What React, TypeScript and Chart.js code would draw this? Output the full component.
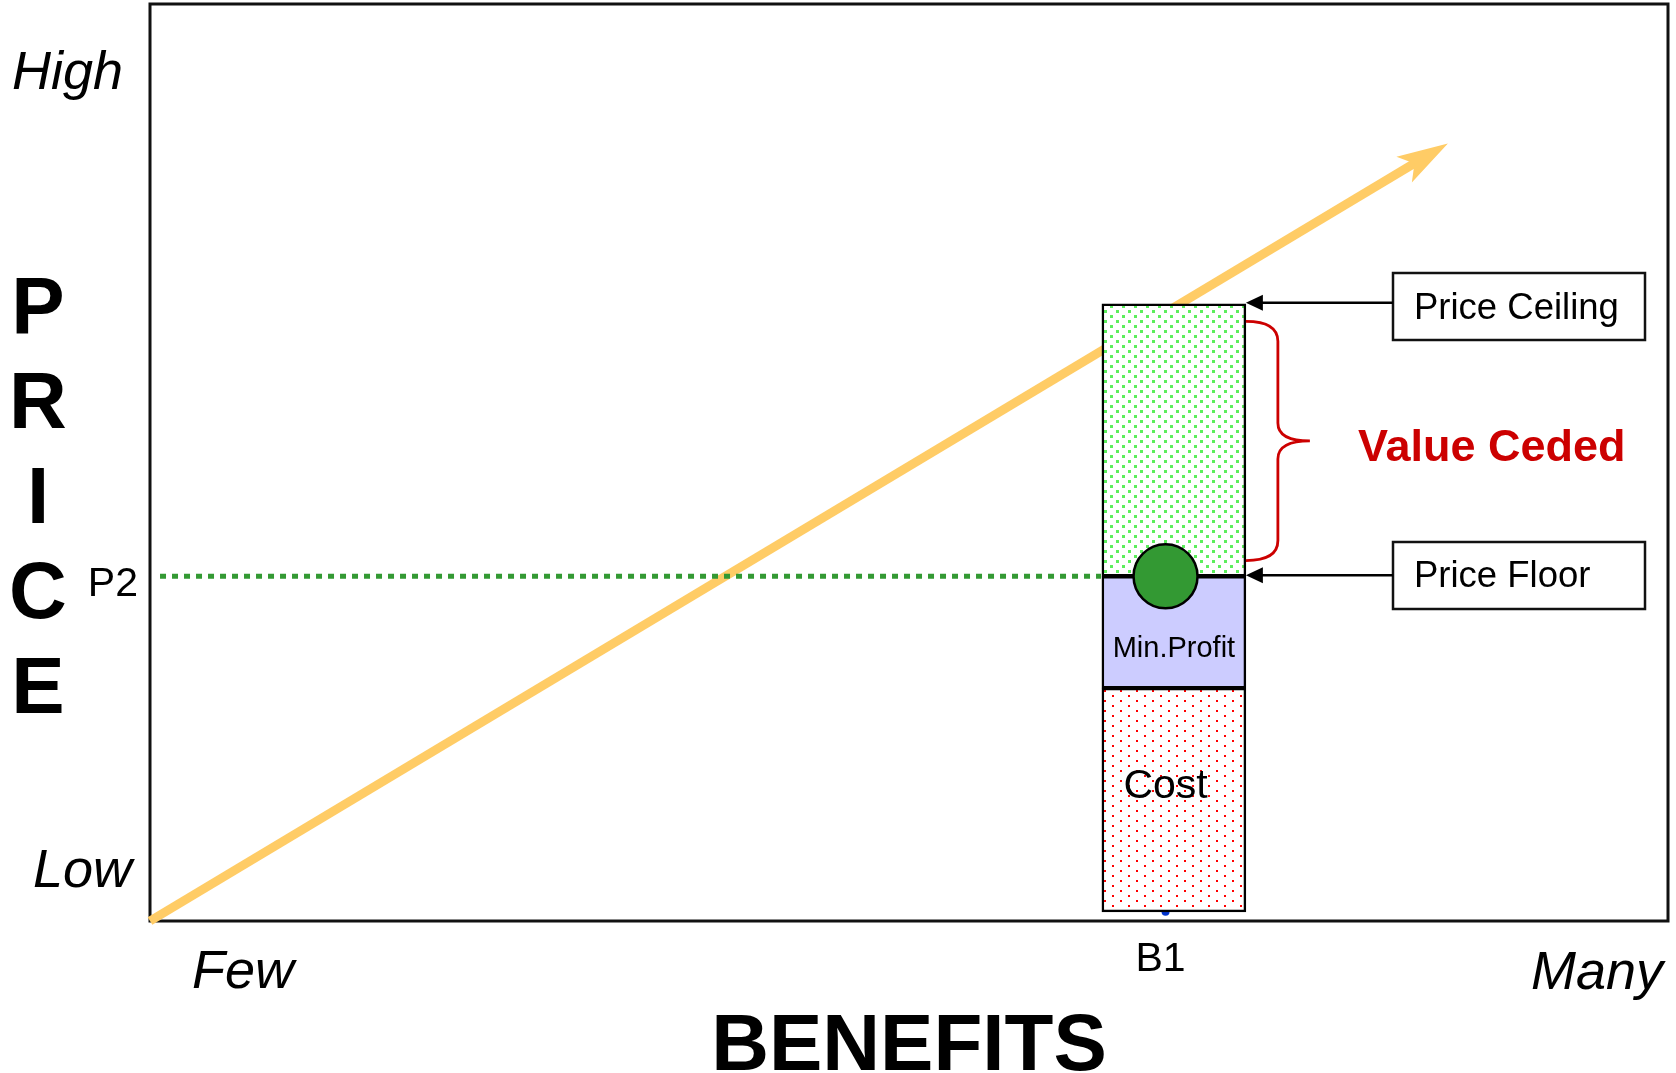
import React, { useEffect, useRef } from "react";
import { Chart, registerables } from "chart.js";

Chart.register(...registerables);

// ---- data (value space 0..100 on both axes) ----
const xAxisRange = [0, 100];
const yAxisRange = [0, 100];
const xEndLabels = ["Few", "Many"];
const yEndLabels = ["High", "Low"];
const axisTitleX = "BENEFITS";
const axisTitleY = "PRICE";
const benefitLabel = "B1";
const priceLabel = "P2";
const B1 = 66.9;
const P2 = 37.6;
const barCenter = 67.45;
const costRange = [1.0, 25.4];
const profitRange = [25.4, 37.6];
const cededRange = [37.6, 67.3];
const trendStart = [0, 0];
const trendTip = [85.5, 84.8];
const dottedStartX = 0.66;
const bracketRange = [39.3, 65.4];
const segmentLabels = ["Cost", "Min.Profit"];
const calloutLabels = ["Price Ceiling", "Price Floor", "Value Ceded"];

const FONT = '"Liberation Sans", Arial, Helvetica, sans-serif';

function makePattern(w: number, h: number, dots: number[][], size: number, color: string) {
  const c = document.createElement("canvas");
  c.width = w;
  c.height = h;
  const g = c.getContext("2d")!;
  g.fillStyle = "#ffffff";
  g.fillRect(0, 0, w, h);
  g.fillStyle = color;
  dots.forEach(([x, y]) => g.fillRect(x, y, size, size));
  return g.createPattern(c, "repeat")!;
}

const decorPlugin = {
  id: "decor",
  beforeDatasetsDraw(chart: any) {
    const { ctx, chartArea: a, scales } = chart;
    const xs = scales.x, ys = scales.y;
    ctx.save();
    // plot frame
    ctx.strokeStyle = "#111";
    ctx.lineWidth = 3;
    ctx.strokeRect(a.left, a.top, a.right - a.left, a.bottom - a.top);
    // trend arrow
    const sx = xs.getPixelForValue(trendStart[0]);
    const sy = ys.getPixelForValue(trendStart[1]);
    const tx = xs.getPixelForValue(trendTip[0]);
    const ty = ys.getPixelForValue(trendTip[1]);
    const len = Math.hypot(tx - sx, ty - sy);
    const ux = (tx - sx) / len, uy = (ty - sy) / len;
    const nx = -uy, ny = ux;
    ctx.strokeStyle = "#FFCC66";
    ctx.lineWidth = 9;
    ctx.lineCap = "butt";
    ctx.beginPath();
    ctx.moveTo(sx, sy);
    ctx.lineTo(tx - 25 * ux, ty - 25 * uy);
    ctx.stroke();
    ctx.fillStyle = "#FFCC66";
    ctx.beginPath();
    ctx.moveTo(tx, ty);
    ctx.lineTo(tx - 51 * ux + 15 * nx, ty - 51 * uy + 15 * ny);
    ctx.lineTo(tx - 39 * ux, ty - 39 * uy);
    ctx.lineTo(tx - 51 * ux - 15 * nx, ty - 51 * uy - 15 * ny);
    ctx.closePath();
    ctx.fill();
    ctx.restore();
  },
  afterDatasetsDraw(chart: any) {
    const { ctx, scales } = chart;
    const xs = scales.x, ys = scales.y;
    const bar = chart.getDatasetMeta(2).data[0] as any;
    const barRight = bar.x + bar.width / 2;
    const barLeft = bar.x - bar.width / 2;
    ctx.save();

    // callout boxes and arrows
    const boxL = 1393, boxR = 1645;
    const boxes = [
      { top: 273, bottom: 340, y: ys.getPixelForValue(cededRange[1]) - 1, text: calloutLabels[0], base: 319 },
      { top: 542, bottom: 609, y: ys.getPixelForValue(P2) - 1, text: calloutLabels[1], base: 587 },
    ];
    boxes.forEach((b) => {
      ctx.strokeStyle = "#111";
      ctx.lineWidth = 2.5;
      ctx.strokeRect(boxL, b.top, boxR - boxL, b.bottom - b.top);
      ctx.fillStyle = "#000";
      ctx.font = `36.5px ${FONT}`;
      ctx.textAlign = "left";
      ctx.textBaseline = "alphabetic";
      ctx.fillText(b.text, 1414, b.base);
      // arrow
      ctx.strokeStyle = "#000";
      ctx.lineWidth = 2.5;
      ctx.beginPath();
      ctx.moveTo(boxL, b.y);
      ctx.lineTo(barRight + 14, b.y);
      ctx.stroke();
      ctx.fillStyle = "#000";
      ctx.beginPath();
      ctx.moveTo(barRight, b.y);
      ctx.lineTo(barRight + 17, b.y - 8);
      ctx.lineTo(barRight + 17, b.y + 8);
      ctx.closePath();
      ctx.fill();
    });

    // brace
    const yT = ys.getPixelForValue(bracketRange[1]);
    const yB = ys.getPixelForValue(bracketRange[0]);
    const yM = (yT + yB) / 2;
    const x0 = barRight;
    const xv = x0 + 32;
    const xt = x0 + 64;
    ctx.strokeStyle = "#CC0000";
    ctx.lineWidth = 2.8;
    ctx.beginPath();
    ctx.moveTo(x0, yT);
    ctx.quadraticCurveTo(xv, yT, xv, yT + 20);
    ctx.lineTo(xv, yM - 18);
    ctx.quadraticCurveTo(xv, yM, xt, yM);
    ctx.quadraticCurveTo(xv, yM, xv, yM + 18);
    ctx.lineTo(xv, yB - 20);
    ctx.quadraticCurveTo(xv, yB, x0, yB);
    ctx.stroke();

    ctx.fillStyle = "#CC0000";
    ctx.font = `bold 45px ${FONT}`;
    ctx.textAlign = "left";
    ctx.fillText(calloutLabels[2], 1358, 461);

    // segment labels
    ctx.fillStyle = "#000";
    ctx.textAlign = "center";
    ctx.font = `29px ${FONT}`;
    ctx.fillText(segmentLabels[1], (barLeft + barRight) / 2, 657);
    ctx.font = `41px ${FONT}`;
    ctx.fillText(segmentLabels[0], xs.getPixelForValue(B1), 798);

    // axis end labels
    ctx.font = `italic 54px ${FONT}`;
    ctx.textAlign = "left";
    ctx.fillText(yEndLabels[0], 12, 89);
    ctx.fillText(yEndLabels[1], 33, 887);
    ctx.fillText(xEndLabels[0], 192, 988);
    ctx.textAlign = "right";
    ctx.fillText(xEndLabels[1], 1663, 989);

    // P2 / B1
    ctx.font = `41px ${FONT}`;
    ctx.textAlign = "right";
    ctx.fillText(priceLabel, 138, ys.getPixelForValue(P2) + 20);
    ctx.textAlign = "center";
    ctx.fillText(benefitLabel, xs.getPixelForValue(B1) - 5, 971);

    // axis titles
    ctx.font = `bold 80px ${FONT}`;
    ctx.textAlign = "center";
    ctx.fillText(axisTitleX, 909, 1070);
    ctx.font = `bold 80px ${FONT}`;
    axisTitleY.split("").forEach((ch, i) => {
      ctx.fillText(ch, 38, 333 + i * 95);
    });
    ctx.restore();
  },
};

export default function App() {
  const ref = useRef<HTMLCanvasElement | null>(null);
  useEffect(() => {
    const canvas = ref.current!;
    const green = makePattern(12, 10, [[0, 0], [6, 5]], 3, "#5CEE5C");
    const red = makePattern(16, 10, [[0, 0], [8, 5]], 2, "#FF0000");
    const chart = new Chart(canvas, {
      type: "scatter",
      data: {
        datasets: [
          {
            type: "scatter",
            data: [{ x: B1, y: P2 }],
            pointRadius: 32,
            pointBackgroundColor: "#339933",
            pointBorderColor: "#000",
            pointBorderWidth: 2.5,
            clip: false,
            order: 0,
          } as any,
          {
            type: "line",
            data: [
              { x: dottedStartX, y: P2 },
              { x: B1 - 4.25, y: P2 },
            ],
            borderColor: "#339933",
            borderWidth: 5,
            borderDash: [6, 6],
            borderCapStyle: "butt",
            pointRadius: 0,
            order: 3,
          } as any,
          {
            type: "bar",
            data: [{ x: barCenter, y: cededRange }],
            backgroundColor: green,
            borderColor: "#000",
            borderWidth: 2.5,
            borderSkipped: false,
            barThickness: 144,
            grouped: false,
            order: 5,
          } as any,
          {
            type: "bar",
            data: [{ x: barCenter, y: profitRange }],
            backgroundColor: "#CCCCFF",
            borderColor: "#000",
            borderWidth: 2.5,
            borderSkipped: false,
            barThickness: 144,
            grouped: false,
            order: 6,
          } as any,
          {
            type: "bar",
            data: [{ x: barCenter, y: costRange }],
            backgroundColor: red,
            borderColor: "#000",
            borderWidth: 2.5,
            borderSkipped: false,
            barThickness: 144,
            grouped: false,
            order: 7,
          } as any,
          {
            type: "scatter",
            data: [{ x: B1, y: costRange[0] }],
            pointRadius: 4,
            pointBackgroundColor: "#0033CC",
            pointBorderWidth: 0,
            order: 20,
          } as any,
        ],
      },
      options: {
        animation: false,
        responsive: false,
        events: [],
        layout: { autoPadding: false, padding: { left: 150, right: 8, top: 4, bottom: 152 } },
        scales: {
          x: { type: "linear", min: xAxisRange[0], max: xAxisRange[1], display: false, offset: false },
          y: { type: "linear", min: yAxisRange[0], max: yAxisRange[1], display: false, offset: false },
        },
        plugins: { legend: { display: false }, tooltip: { enabled: false } },
      },
      plugins: [decorPlugin],
    } as any);
    return () => chart.destroy();
  }, []);
  return (
    <div style={{ position: "absolute", left: 0, top: 0, width: 1676, height: 1073, background: "#fff" }}>
      <canvas ref={ref} width={1676} height={1073} style={{ width: 1676, height: 1073, display: "block" }} />
    </div>
  );
}
